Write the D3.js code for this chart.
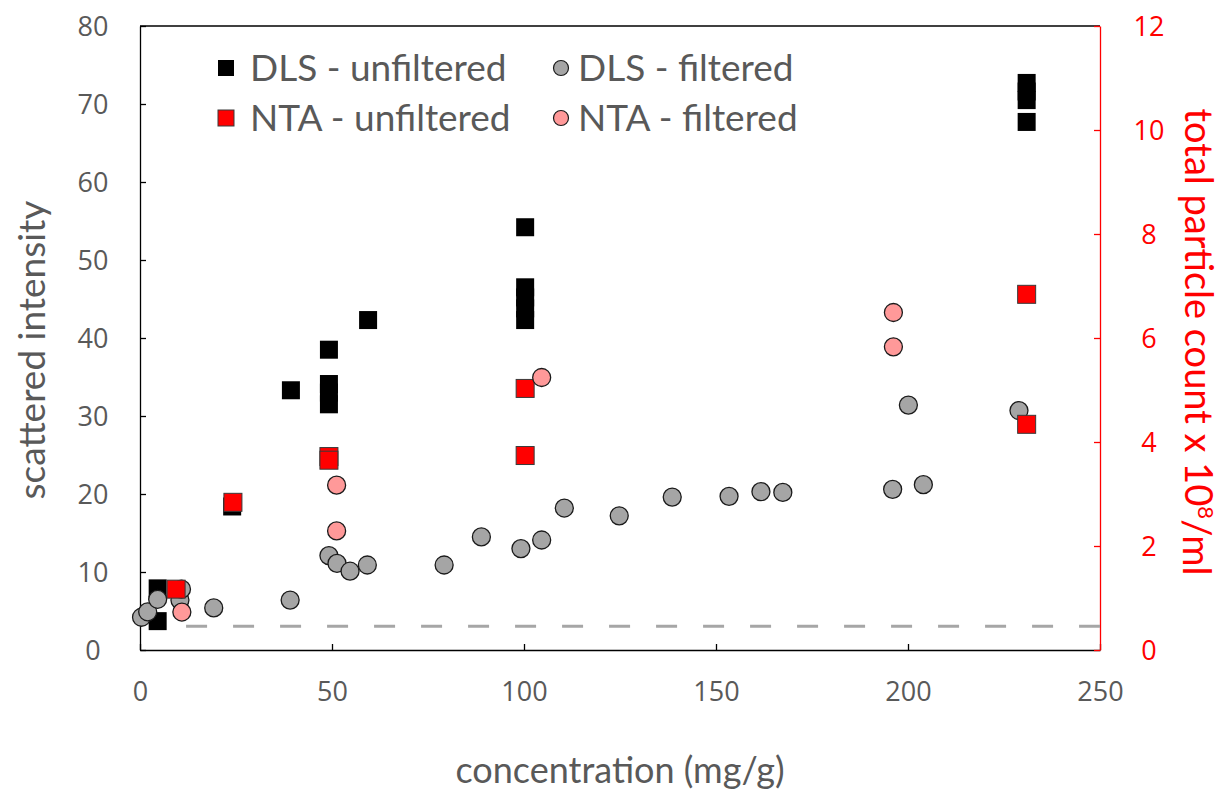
<!DOCTYPE html>
<html>
<head>
<meta charset="utf-8">
<script src="https://cdn.jsdelivr.net/npm/d3@7"></script>
<style>
  html, body { margin: 0; padding: 0; background: #fff; }
  svg { display: block; }
  .tick text { font-family: "Open Sans", sans-serif; }
</style>
</head>
<body>
<svg id="chart" width="1231" height="790"></svg>
<script>
// DLS, unfiltered (left axis: scattered intensity)
const dlsUnfilteredX = [4.6, 4.6, 24.0, 39.3, 49.2, 49.2, 49.2, 49.2, 59.4, 100.3, 100.3, 100.3, 100.3, 100.3, 230.9, 230.9, 230.9, 230.9];
const dlsUnfilteredY = [7.9, 3.7, 18.4, 33.3, 38.5, 34.1, 33.0, 31.5, 42.3, 54.2, 46.5, 45.2, 43.8, 42.3, 72.7, 71.6, 70.5, 67.7];

// DLS, filtered (left axis)
const dlsFilteredX = [0.4, 2.0, 4.6, 10.4, 10.8, 19.2, 39.1, 49.2, 51.3, 54.7, 59.2, 79.2, 88.9, 99.2, 104.6, 110.5, 124.8, 138.6, 153.4, 161.7, 167.4, 196.0, 200.1, 204.0, 228.9];
const dlsFilteredY = [4.2, 4.9, 6.5, 6.4, 7.8, 5.4, 6.4, 12.1, 11.1, 10.1, 10.9, 10.9, 14.5, 13.0, 14.1, 18.2, 17.2, 19.6, 19.7, 20.3, 20.2, 20.6, 31.4, 21.2, 30.7];

// NTA, unfiltered (right axis: particle count x 10^8/ml)
const ntaUnfilteredX = [9.4, 24.2, 49.2, 49.2, 100.3, 100.3, 230.9, 230.9];
const ntaUnfilteredY = [1.17, 2.84, 3.72, 3.65, 5.03, 3.74, 6.84, 4.34];

// NTA, filtered (right axis)
const ntaFilteredX = [10.9, 51.2, 51.2, 104.6, 196.2, 196.2];
const ntaFilteredY = [0.73, 3.17, 2.29, 5.24, 6.49, 5.83];

// Reference level (dashed line, left axis)
const baselineX = [12, 250];
const baselineY = [3.05, 3.05];

// Axis ticks
const xTicks = [0, 50, 100, 150, 200, 250];
const yLeftTicks = [0, 10, 20, 30, 40, 50, 60, 70, 80];
const yRightTicks = [0, 2, 4, 6, 8, 10, 12];

const legendLabels = ["DLS - unfiltered", "DLS - filtered", "NTA - unfiltered", "NTA - filtered"];

const svg = d3.select("#chart");
const plotLeft = 140, plotRight = 1100, plotTop = 26, plotBottom = 650;

const x = d3.scaleLinear().domain([0, 250]).range([plotLeft, plotRight]);
const yL = d3.scaleLinear().domain([0, 80]).range([plotBottom, plotTop]);
const yR = d3.scaleLinear().domain([0, 12]).range([plotBottom, plotTop]);

const grey = "#595959";
const tickFont = 27;

// top border
svg.append("line")
  .attr("x1", plotLeft).attr("x2", plotRight).attr("y1", plotTop).attr("y2", plotTop)
  .attr("stroke", "#000").attr("stroke-width", 1.3);

// bottom axis
const gx = svg.append("g").attr("transform", `translate(0,${plotBottom})`)
  .call(d3.axisBottom(x).tickValues(xTicks).tickSizeInner(-6).tickSizeOuter(0).tickPadding(42));
gx.select(".domain").attr("stroke", "#000").attr("stroke-width", 1.3);
gx.selectAll(".tick line").attr("stroke", "#000").attr("stroke-width", 1.3);
gx.selectAll(".tick text").attr("fill", grey).attr("font-size", tickFont).attr("dy", "0.35em");

// left axis
const gy = svg.append("g").attr("transform", `translate(${plotLeft},0)`)
  .call(d3.axisLeft(yL).tickValues(yLeftTicks).tickSizeInner(-6).tickSizeOuter(0));
gy.select(".domain").attr("stroke", "#000").attr("stroke-width", 1.3);
gy.selectAll(".tick line").attr("stroke", "#000").attr("stroke-width", 1.3);
gy.selectAll(".tick text").attr("fill", grey).attr("font-size", tickFont)
  .attr("text-anchor", "middle").attr("x", -47).attr("dy", "0.35em");

// right axis
const gr = svg.append("g").attr("transform", `translate(${plotRight},0)`)
  .call(d3.axisRight(yR).tickValues(yRightTicks).tickSizeInner(-6).tickSizeOuter(0));
gr.select(".domain").attr("stroke", "#ff0000").attr("stroke-width", 1.3);
gr.selectAll(".tick line").attr("stroke", "#ff0000").attr("stroke-width", 1.3);
gr.selectAll(".tick text").attr("fill", "#ff0000").attr("font-size", tickFont)
  .attr("text-anchor", "middle").attr("x", 49).attr("dy", "0.35em");

// dashed reference line
svg.append("line")
  .attr("x1", x(baselineX[0])).attr("x2", x(baselineX[1]))
  .attr("y1", yL(baselineY[0])).attr("y2", yL(baselineY[1]))
  .attr("stroke", "#a6a6a6").attr("stroke-width", 3)
  .attr("stroke-dasharray", "21 26");

const sq = 18, r = 9;
const zip = (xs, ys) => xs.map((v, i) => [v, ys[i]]);

// DLS unfiltered: black squares
svg.append("g").selectAll("rect").data(zip(dlsUnfilteredX, dlsUnfilteredY)).join("rect")
  .attr("x", d => x(d[0]) - sq / 2).attr("y", d => yL(d[1]) - sq / 2)
  .attr("width", sq).attr("height", sq).attr("fill", "#000");

// DLS filtered: grey circles
svg.append("g").selectAll("circle").data(zip(dlsFilteredX, dlsFilteredY)).join("circle")
  .attr("cx", d => x(d[0])).attr("cy", d => yL(d[1])).attr("r", r)
  .attr("fill", "#a5a5a5").attr("stroke", "#1a1a1a").attr("stroke-width", 1.3);

// NTA unfiltered: red squares
svg.append("g").selectAll("rect").data(zip(ntaUnfilteredX, ntaUnfilteredY)).join("rect")
  .attr("x", d => x(d[0]) - sq / 2).attr("y", d => yR(d[1]) - sq / 2)
  .attr("width", sq).attr("height", sq).attr("fill", "#ff0000")
  .attr("stroke", "#3a3a3a").attr("stroke-width", 1);

// NTA filtered: pink circles
svg.append("g").selectAll("circle").data(zip(ntaFilteredX, ntaFilteredY)).join("circle")
  .attr("cx", d => x(d[0])).attr("cy", d => yR(d[1])).attr("r", r)
  .attr("fill", "#ff9999").attr("stroke", "#1a1a1a").attr("stroke-width", 1.3);

// legend
const legendFont = "Lato, sans-serif";
const legendItems = [
  { label: legendLabels[0], shape: "square", fill: "#000", stroke: "none", lx: 226, ly: 68, tx: 250 },
  { label: legendLabels[1], shape: "circle", fill: "#a5a5a5", stroke: "#1a1a1a", lx: 561, ly: 68, tx: 578 },
  { label: legendLabels[2], shape: "square", fill: "#ff0000", stroke: "#3a3a3a", lx: 226, ly: 118, tx: 250 },
  { label: legendLabels[3], shape: "circle", fill: "#ff9999", stroke: "#1a1a1a", lx: 561, ly: 118, tx: 578 }
];
const lg = svg.append("g");
legendItems.forEach(it => {
  if (it.shape === "square") {
    lg.append("rect").attr("x", it.lx - 8).attr("y", it.ly - 8).attr("width", 16).attr("height", 16)
      .attr("fill", it.fill).attr("stroke", it.stroke).attr("stroke-width", 1);
  } else {
    lg.append("circle").attr("cx", it.lx).attr("cy", it.ly).attr("r", 7.5)
      .attr("fill", it.fill).attr("stroke", it.stroke).attr("stroke-width", 1.2);
  }
  lg.append("text").attr("x", it.tx).attr("y", it.ly).attr("dy", "0.36em")
    .attr("font-family", legendFont).attr("font-size", 37).attr("fill", grey)
    .text(it.label);
});

// axis titles
svg.append("text")
  .attr("transform", `translate(32,350) rotate(-90)`)
  .attr("text-anchor", "middle").attr("dy", "0.35em")
  .attr("font-family", legendFont).attr("font-size", 37).attr("fill", grey)
  .text("scattered intensity");

svg.append("text")
  .attr("x", 620).attr("y", 770).attr("text-anchor", "middle").attr("dy", "0.35em")
  .attr("font-family", legendFont).attr("font-size", 36).attr("fill", grey)
  .text("concentration (mg/g)");

const rt = svg.append("text")
  .attr("transform", `translate(1198,342) rotate(90)`)
  .attr("text-anchor", "middle").attr("dy", "0.35em")
  .attr("font-family", legendFont).attr("font-size", 38).attr("fill", "#ff0000");
rt.append("tspan").text("total particle count x 10");
rt.append("tspan").attr("font-size", 22).attr("dy", "-0.6em").text("8");
rt.append("tspan").attr("dy", "0.38em").text("/ml");
</script>
</body>
</html>
